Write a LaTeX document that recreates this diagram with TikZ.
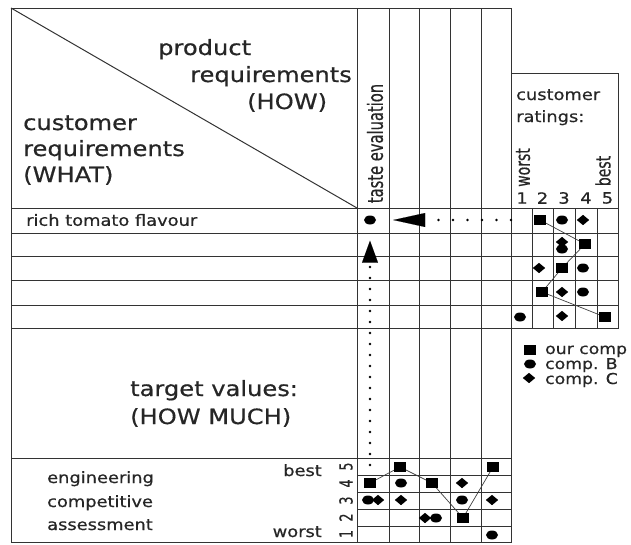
\documentclass[tikz,border=0pt]{standalone}
\usepackage{fontspec}
\setmainfont[FakeStretch=1.15, FakeBold=0.6]{DejaVu Sans}
\newfontfamily\narrowfont[FakeStretch=0.7, FakeBold=0.6]{DejaVu Sans}
\usepackage{tikz}
\usetikzlibrary{arrows.meta, shapes.geometric}

\begin{document}
\begin{tikzpicture}[x=1pt, y=-1pt,
    every node/.style={inner sep=0pt, text=black!85},
    grid/.style={draw=black!80, line width=1pt},
    headtxt/.style={font=\fontsize{21}{25}\selectfont},
    bodytxt/.style={font=\fontsize{15.5}{18}\selectfont},
    uptxt/.style={rotate=90, font=\narrowfont\fontsize{20}{22}\selectfont},
    oursq/.style={fill=black, minimum width=12pt, minimum height=10pt},
    compb/.style={fill=black, ellipse, minimum width=12pt, minimum height=9pt},
    compc/.style={fill=black, diamond, minimum width=12.5pt, minimum height=10.5pt},
    rateline/.style={draw=black!75, line width=0.7pt},
    dotarr/.style={line width=2.6pt, line cap=round, dash pattern=on 0pt off 11pt,
        -{Triangle[length=22pt, width=16pt, line width=0.1pt]}},
    dotarrh/.style={line width=2.6pt, line cap=round, dash pattern=on 0pt off 14.5pt,
        -{Triangle[length=32pt, width=14pt, line width=0.1pt]}}
]
\useasboundingbox (0,0) rectangle (631,544);

% house of quality grid
\draw[grid] (11,8) rectangle (511,542.5);
\draw[grid] (11,8) -- (357,208);
\foreach \x in {357,389,419,450,481}
    \draw[grid] (\x,8) -- (\x,542.5);
\foreach \y in {208,233,256,280,305,328}
    \draw[grid] (11,\y) -- (618,\y);
\draw[grid] (511,73) rectangle (618,328);
\foreach \x in {532,553,575,597}
    \draw[grid] (\x,208) -- (\x,328);
\draw[grid] (11,458) -- (511,458);
\foreach \y in {475,492,509,526}
    \draw[grid] (357,\y) -- (511,\y);

% headings
\node[headtxt, anchor=base west] (how1) at (158,55) {product};
\node[headtxt, anchor=base west] (how2) at (190,82) {requirements};
\node[headtxt, anchor=base west] (how3) at (247,109) {(HOW)};
\node[headtxt, anchor=base west] (what1) at (23,130) {customer};
\node[headtxt, anchor=base west] (what2) at (23,156) {requirements};
\node[headtxt, anchor=base west] (what3) at (23,182) {(WHAT)};
\node[headtxt, anchor=base west] (much1) at (130,396) {target values:};
\node[headtxt, anchor=base west] (much2) at (130,424) {(HOW MUCH)};

\node[bodytxt, anchor=west] (flavour) at (26,220) {rich tomato flavour};
\node[uptxt, font=\narrowfont\fontsize{21}{22}\selectfont] (taste) at (375,143.5) {taste evaluation};

% customer ratings
\node[bodytxt, anchor=base west] (cr1) at (516,100) {customer};
\node[bodytxt, anchor=base west] (cr2) at (516,122) {ratings:};
\node[uptxt] (crworst) at (523,167.5) {worst};
\node[uptxt] (crbest) at (603,171) {best};
\foreach \x [count=\i] in {522,542.5,564,586,607.5}
    \node[bodytxt] (rn\i) at (\x,198) {\i};

\draw[rateline] (540,220) node[oursq] (ra1) {}
    -- (585,244) node[oursq] (ra2) {}
    -- (562,268) node[oursq] (ra3) {}
    -- (542,292) node[oursq] (ra4) {}
    -- (605,317) node[oursq] (ra5) {};
\foreach \p [count=\i] in {(562,220),(562,249),(583,268),(583,292),(520,317)}
    \node[compb] (rb\i) at \p {};
\foreach \p [count=\i] in {(583,220),(562,242),(539,268),(562,292),(562,316)}
    \node[compc] (rc\i) at \p {};

% legend
\node[oursq] (lg1) at (530,350) {};
\node[compb] (lg2) at (530,364) {};
\node[compc] (lg3) at (529,378) {};
\node[bodytxt, font=\fontsize{15}{17}\selectfont, anchor=base west] (lt1) at (545,354) {our comp};
\node[bodytxt, font=\fontsize{15}{17}\selectfont, anchor=base west] (lt2) at (545,369) {comp. B};
\node[bodytxt, font=\fontsize{15}{17}\selectfont, anchor=base west] (lt3) at (545,384) {comp. C};

% engineering competitive assessment
\node[bodytxt, anchor=base west] (eca1) at (47,483) {engineering};
\node[bodytxt, anchor=base west] (eca2) at (47,507) {competitive};
\node[bodytxt, anchor=base west] (eca3) at (47,530) {assessment};
\node[bodytxt, anchor=base east] (ebest) at (322,476) {best};
\node[bodytxt, anchor=base east] (eworst) at (322,537) {worst};
\foreach \y [count=\i] in {534,517.5,500.5,483.5,466.5}
    \node[uptxt, font=\narrowfont\fontsize{18}{18}\selectfont] (en\i) at (346,\y) {\i};

\draw[rateline] (370,483) node[oursq] (ea1) {}
    -- (400,467) node[oursq] (ea2) {}
    -- (432,483) node[oursq] (ea3) {}
    -- (463,518) node[oursq] (ea4) {}
    -- (493,467) node[oursq] (ea5) {};
\foreach \p [count=\i] in {(401,483),(368,500),(462,500),(436,518),(492,535)}
    \node[compb] (eb\i) at \p {};
\foreach \p [count=\i] in {(462,483),(378,500),(401,500),(492,500),(425,518)}
    \node[compc] (ec\i) at \p {};

% target links
\node[compb] (rt) at (370,220) {};
\coordinate (vstart) at (370,465);
\coordinate (hstart) at (511,220);
\draw[dotarr, shorten >=16pt] (vstart) -- (rt);
\draw[dotarrh, shorten >=17pt] (hstart) -- (rt);
\end{tikzpicture}
\end{document}
